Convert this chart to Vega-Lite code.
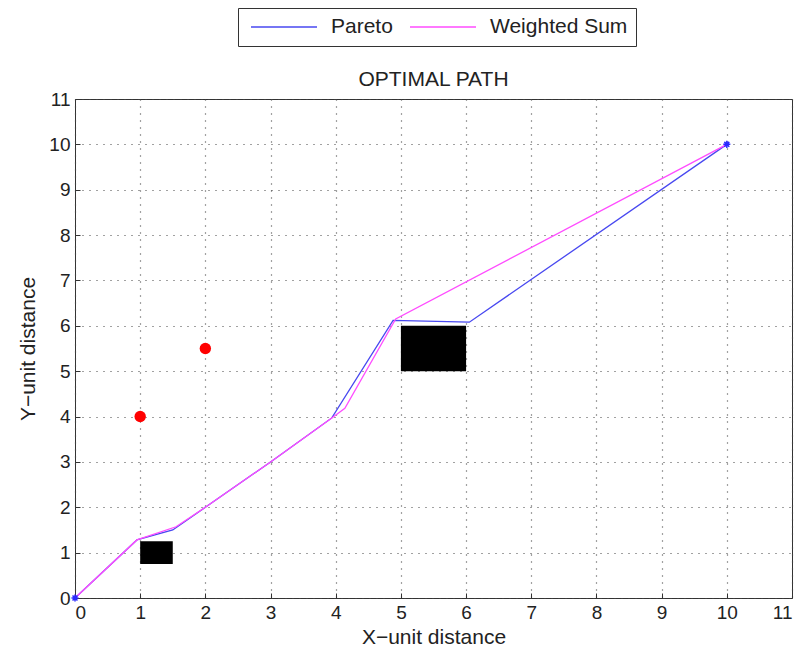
{
  "$schema": "https://vega.github.io/schema/vega-lite/v6.json",
  "autosize": {"type": "none"},
  "width": 717,
  "height": 499,
  "padding": {"left": 75, "top": 99, "right": 11, "bottom": 57},
  "background": "white",
  "config": {
    "font": "Liberation Sans",
    "view": {"stroke": "#333", "strokeWidth": 1},
    "axis": {
      "labelFont": "Liberation Sans",
      "labelFontSize": 19,
      "labelColor": "#222",
      "titleFont": "Liberation Sans",
      "titleFontSize": 21,
      "titleFontWeight": "normal",
      "titleColor": "#222",
      "grid": true,
      "gridDash": [1, 6],
      "gridColor": "#444",
      "gridWidth": 1.2,
      "domain": false,
      "tickSize": -5,
      "tickColor": "#333",
      "labelPadding": 10
    }
  },
  "title": {"text": "OPTIMAL PATH", "fontSize": 21, "fontWeight": "normal", "font": "Liberation Sans", "color": "#222", "offset": -82, "anchor": "middle"},
  "datasets": {
    "paths": [
      {"series": "Pareto", "i": 0, "x": 0, "y": 0},
      {"series": "Pareto", "i": 1, "x": 0.95, "y": 1.28},
      {"series": "Pareto", "i": 2, "x": 1.5, "y": 1.5},
      {"series": "Pareto", "i": 3, "x": 2, "y": 2},
      {"series": "Pareto", "i": 4, "x": 3, "y": 3},
      {"series": "Pareto", "i": 5, "x": 3.94, "y": 3.97},
      {"series": "Pareto", "i": 6, "x": 4.88, "y": 6.12},
      {"series": "Pareto", "i": 7, "x": 6.05, "y": 6.08},
      {"series": "Pareto", "i": 8, "x": 10, "y": 10},
      {"series": "Weighted Sum", "i": 0, "x": 0, "y": 0},
      {"series": "Weighted Sum", "i": 1, "x": 0.95, "y": 1.28},
      {"series": "Weighted Sum", "i": 2, "x": 1.55, "y": 1.57},
      {"series": "Weighted Sum", "i": 3, "x": 2, "y": 2},
      {"series": "Weighted Sum", "i": 4, "x": 3, "y": 3},
      {"series": "Weighted Sum", "i": 5, "x": 3.94, "y": 3.97},
      {"series": "Weighted Sum", "i": 6, "x": 4.14, "y": 4.18},
      {"series": "Weighted Sum", "i": 7, "x": 4.92, "y": 6.15},
      {"series": "Weighted Sum", "i": 8, "x": 10, "y": 10}
    ],
    "obstacles": [
      {"x": 1, "x2": 1.5, "y": 0.75, "y2": 1.25},
      {"x": 5, "x2": 6, "y": 5, "y2": 6}
    ],
    "dots": [
      {"x": 1, "y": 4},
      {"x": 2, "y": 5.5}
    ],
    "ends": [
      {"x": 0, "y": 0},
      {"x": 10, "y": 10}
    ]
  },
  "encoding": {
    "x": {"field": "x", "type": "quantitative", "scale": {"domain": [0, 11], "nice": false}, "axis": {"values": [0,1,2,3,4,5,6,7,8,9,10,11], "title": "X−unit distance", "titlePadding": 4}},
    "y": {"field": "y", "type": "quantitative", "scale": {"domain": [0, 11], "nice": false}, "axis": {"values": [0,1,2,3,4,5,6,7,8,9,10,11], "title": "Y−unit distance", "titlePadding": 10}}
  },
  "layer": [
    {
      "data": {"name": "obstacles"},
      "mark": {"type": "rect", "fill": "black"},
      "encoding": {"x2": {"field": "x2"}, "y2": {"field": "y2"}}
    },
    {
      "data": {"name": "paths"},
      "mark": {"type": "line", "strokeWidth": 1.3},
      "encoding": {
        "order": {"field": "i", "type": "quantitative"},
        "color": {
          "field": "series", "type": "nominal",
          "scale": {"domain": ["Pareto", "Weighted Sum"], "range": ["#4848f0", "#ff4cff"]},
          "legend": {
            "orient": "none", "legendX": 163, "legendY": -91, "direction": "horizontal", "title": null,
            "symbolType": "stroke", "symbolSize": 4356, "symbolStrokeWidth": 1.3, "clipHeight": 22,
            "labelFontSize": 21, "labelFont": "Liberation Sans", "labelColor": "#222",
            "strokeColor": "#333", "fillColor": "white", "padding": 8, "columnPadding": 12,
            "symbolOffset": 4, "labelOffset": 13
          }
        }
      }
    },
    {
      "data": {"name": "dots"},
      "mark": {"type": "point", "filled": true, "shape": "circle", "color": "#ff0000", "size": 130, "opacity": 1}
    },
    {
      "data": {"name": "ends"},
      "mark": {"type": "point", "shape": "M-1,0L1,0M0,-1L0,1M-0.7,-0.7L0.7,0.7M-0.7,0.7L0.7,-0.7", "color": "#2a2aff", "size": 50, "strokeWidth": 1.5, "opacity": 1}
    }
  ]
}
